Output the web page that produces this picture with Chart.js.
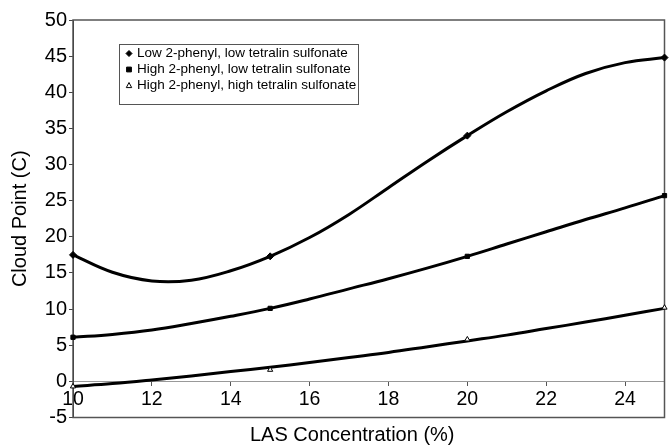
<!DOCTYPE html>
<html>
<head>
<meta charset="utf-8">
<script src="https://cdn.jsdelivr.net/npm/chart.js@4.4.1/dist/chart.umd.min.js"></script>
<style>
  html, body { margin: 0; padding: 0; background: #ffffff; }
  #c { display: block; }
</style>
</head>
<body>
<canvas id="c" width="669" height="445"></canvas>
<script>
// ---- Data ----
const seriesLabels = [
  'Low 2-phenyl, low tetralin sulfonate',
  'High 2-phenyl, low tetralin sulfonate',
  'High 2-phenyl, high tetralin sulfonate'
];
// measured points (markers)
const xMeasured = [10, 15, 20, 25];
const lowPhLowTet = [17.5, 17.3, 34.0, 44.8];
const highPhLowTet = [6.1, 10.1, 17.3, 25.7];
const highPhHighTet = [-0.7, 1.6, 5.8, 10.2];
// trend curves at each unit of x
const xCurve = [10, 11, 12, 13, 14, 15, 16, 17, 18, 19, 20, 21, 22, 23, 24, 25];
const lowPhLowTetCurve = [17.5, 15.1, 13.9, 14.0, 15.3, 17.3, 19.9, 23.1, 26.8, 30.5, 34.0, 37.3, 40.2, 42.6, 44.1, 44.8];
const highPhLowTetCurve = [6.1, 6.5, 7.1, 8.0, 9.0, 10.1, 11.4, 12.8, 14.2, 15.7, 17.3, 19.0, 20.7, 22.4, 24.0, 25.7];
const highPhHighTetCurve = [-0.7, -0.3, 0.2, 0.75, 1.35, 1.95, 2.6, 3.3, 4.0, 4.8, 5.6, 6.4, 7.3, 8.2, 9.15, 10.1];
// tick labels
const xTickValues = [10, 12, 14, 16, 18, 20, 22, 24];
const yTickValues = [-5, 0, 5, 10, 15, 20, 25, 30, 35, 40, 45, 50];
const xTitle = 'LAS Concentration (%)';
const yTitle = 'Cloud Point (C)';

const FONT = "'Liberation Sans', Arial, Helvetica, sans-serif";
const pts = (xs, ys) => xs.map((x, i) => ({ x: x, y: ys[i] }));

function markerDataset(label, ys, style, fill, r) {
  return {
    label: label, isMarker: true, data: pts(xMeasured, ys), showLine: false,
    pointStyle: style, pointRadius: r, pointHoverRadius: r,
    pointBackgroundColor: fill, pointBorderColor: '#000', pointBorderWidth: 1,
    clip: false, order: 0
  };
}
function curveDataset(ys) {
  return {
    label: '', isMarker: false, data: pts(xCurve, ys), showLine: true,
    borderColor: '#000', borderWidth: 3, pointRadius: 0, pointHoverRadius: 0,
    tension: 0.4, fill: false, clip: false, order: 1
  };
}

function drawShape(ctx, style, x, y, r) {
  ctx.beginPath();
  if (style === 'rectRot') {
    ctx.moveTo(x, y - r); ctx.lineTo(x + r, y); ctx.lineTo(x, y + r); ctx.lineTo(x - r, y);
  } else if (style === 'rect') {
    ctx.rect(x - r * 0.8, y - r * 0.8, r * 1.6, r * 1.6);
  } else {
    ctx.moveTo(x, y - r); ctx.lineTo(x + r * 0.9, y + r * 0.7); ctx.lineTo(x - r * 0.9, y + r * 0.7);
  }
  ctx.closePath();
  ctx.fill();
  ctx.stroke();
}

const plotFrame = {
  id: 'plotFrame',
  beforeDatasetsDraw(chart) {
    const { ctx, chartArea: a } = chart;
    ctx.save();
    ctx.strokeStyle = '#555';
    ctx.lineWidth = 1.5;
    ctx.strokeRect(a.left, a.top, a.right - a.left, a.bottom - a.top);
    ctx.restore();
  }
};

const insideLegend = {
  id: 'insideLegend',
  afterDraw(chart) {
    const { ctx, chartArea: a } = chart;
    const bx = a.left + 46, by = a.top + 24, bw = 239, bh = 60;
    ctx.save();
    ctx.fillStyle = '#fff';
    ctx.fillRect(bx, by, bw, bh);
    ctx.strokeStyle = '#555';
    ctx.lineWidth = 1;
    ctx.strokeRect(bx + 0.5, by + 0.5, bw, bh);
    ctx.font = '13.5px ' + FONT;
    ctx.textBaseline = 'middle';
    ctx.textAlign = 'left';
    chart.data.datasets.filter(d => d.isMarker).forEach((d, i) => {
      const y = by + 9.5 + i * 16;
      ctx.fillStyle = d.pointBackgroundColor;
      ctx.strokeStyle = '#000';
      ctx.lineWidth = 1;
      drawShape(ctx, d.pointStyle, bx + 10, y, 3);
      ctx.fillStyle = '#000';
      ctx.fillText(d.label, bx + 18, y);
    });
    ctx.restore();
  }
};

const titleShift = {
  id: 'titleShift',
  afterLayout(chart) {
    const s = chart.scales.xb;
    if (s) { s.left = 40; }
  }
};

new Chart(document.getElementById('c'), {
  type: 'scatter',
  data: {
    datasets: [
      curveDataset(lowPhLowTetCurve),
      curveDataset(highPhLowTetCurve),
      curveDataset(highPhHighTetCurve),
      markerDataset(seriesLabels[0], lowPhLowTet, 'rectRot', '#000', 3.5),
      markerDataset(seriesLabels[1], highPhLowTet, 'rect', '#000', 3),
      markerDataset(seriesLabels[2], highPhHighTet, 'triangle', '#fff', 3)
    ]
  },
  options: {
    responsive: false,
    maintainAspectRatio: false,
    animation: false,
    devicePixelRatio: 1,
    layout: { padding: { top: 20, right: 1, left: 0, bottom: 0 } },
    plugins: { legend: { display: false }, tooltip: { enabled: false }, title: { display: false } },
    scales: {
      x: {
        type: 'linear', axis: 'x', position: { y: 0 }, min: 10, max: 25,
        afterBuildTicks: s => { s.ticks = xTickValues.map(v => ({ value: v })); },
        grid: { display: true, drawOnChartArea: false, drawTicks: true, tickLength: 4, color: '#555' },
        border: { display: true, color: '#999', width: 1 },
        ticks: { color: '#000', font: { family: FONT, size: 19.5 }, padding: 3, maxRotation: 0, autoSkip: false }
      },
      xb: {
        type: 'linear', axis: 'x', position: 'bottom', min: 10, max: 25,
        grid: { display: false, drawTicks: false },
        border: { display: false },
        ticks: { display: false },
        title: { display: true, text: xTitle, color: '#000', font: { family: FONT, size: 20, lineHeight: 1.2 }, padding: { top: 0, bottom: -2.5 } },
        afterFit: s => { s.height = 27.5; }
      },
      y: {
        type: 'linear', position: 'left', min: -5, max: 50,
        afterBuildTicks: s => { s.ticks = yTickValues.map(v => ({ value: v })); },
        grid: { display: true, drawOnChartArea: false, drawTicks: true, tickLength: 4, color: '#444' },
        border: { display: true, color: '#222', width: 1 },
        ticks: { color: '#000', font: { family: FONT, size: 20 }, padding: 2, autoSkip: false },
        title: { display: true, text: yTitle, color: '#000', font: { family: FONT, size: 20, lineHeight: 1.2 }, padding: { top: 8, bottom: 0 } },
        afterFit: s => { s.width = 73; }
      }
    }
  },
  plugins: [plotFrame, insideLegend, titleShift]
});
</script>
</body>
</html>
